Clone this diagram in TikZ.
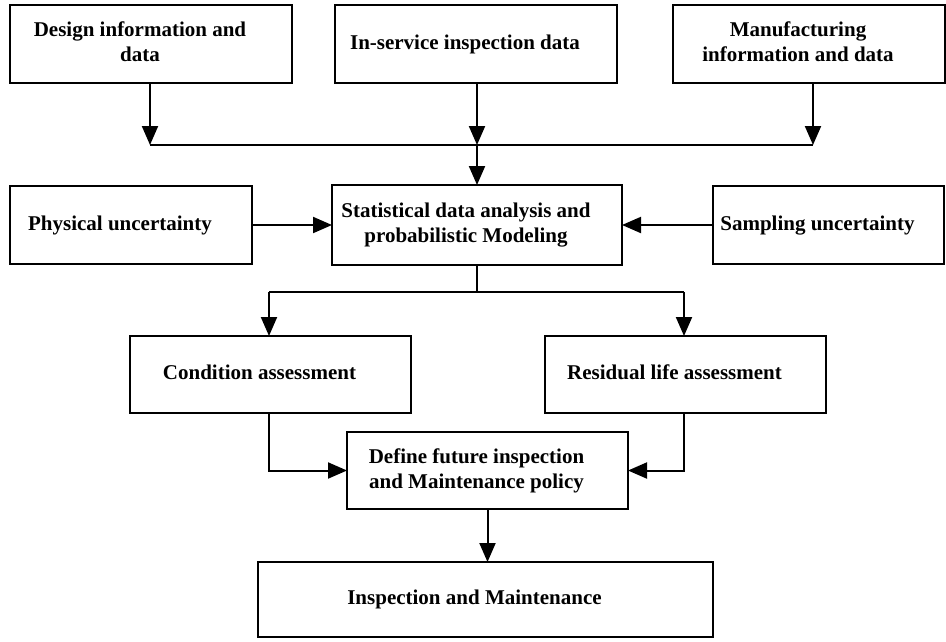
\documentclass[tikz,border=0pt]{standalone}
\usepackage{fontspec}
\setmainfont{Liberation Serif}
\usetikzlibrary{arrows.meta}
\newcommand{\boxtext}[1]{\begin{tabular}{@{}c@{\hspace{22pt}}}#1\end{tabular}}
\begin{document}
\begin{tikzpicture}[x=1pt,y=-1pt,
    >={Triangle[length=19pt,width=16pt]},
    line width=2pt,
    box/.style={draw, inner sep=0pt, outer sep=0pt,
      font=\fontsize{21}{25}\selectfont\bfseries}]
  \useasboundingbox (0,0) rectangle (946,641);

  % Top nodes
  \node[box, minimum width=282pt, minimum height=78pt] (design) at (151,44) {\boxtext{Design information and\\data}};
  \node[box, minimum width=282pt, minimum height=78pt] (inservice) at (476,44) {\boxtext{In-service inspection data}};
  \node[box, minimum width=272pt, minimum height=78pt] (manuf) at (809,44) {\boxtext{Manufacturing\\information and data}};

  % Middle nodes
  \node[box, minimum width=242pt, minimum height=78pt] (physical) at (131,225) {\boxtext{Physical uncertainty}};
  \node[box, minimum width=290pt, minimum height=80pt] (stat) at (477,225) {\boxtext{Statistical data analysis and\\probabilistic Modeling}};
  \node[box, minimum width=231pt, minimum height=78pt] (sampling) at (828.5,225) {\boxtext{Sampling uncertainty}};

  % Assessment nodes
  \node[box, minimum width=281pt, minimum height=77pt] (cond) at (270.5,374.5) {\boxtext{Condition assessment}};
  \node[box, minimum width=281pt, minimum height=77pt] (resid) at (685.5,374.5) {\boxtext{Residual life assessment}};

  % Lower nodes
  \node[box, minimum width=281pt, minimum height=77pt] (define) at (487.5,470.5) {\boxtext{Define future inspection\\and Maintenance policy}};
  \node[box, minimum width=455pt, minimum height=75pt] (inspect) at (485.5,599.5) {\boxtext{Inspection and Maintenance}};

  % Junctions
  \coordinate (busL) at (150,145);
  \coordinate (bus) at (477,145);
  \coordinate (busR) at (813,145);
  \coordinate (splitL) at (269,292);
  \coordinate (split) at (477,292);
  \coordinate (splitR) at (684,292);

  % Lines into the top bus
  \draw[->] (design.south -| busL) to (busL);
  \draw[->] (inservice.south -| bus) to (bus);
  \draw[->] (manuf.south -| busR) to (busR);
  \draw[-] (busL) to (busR);
  \draw[->] (bus) to (stat.north -| bus);

  % Lines from the uncertainties
  \draw[->] (physical) to (stat);
  \draw[->] (sampling) to (stat);

  % Lines to the assessments
  \draw[-] (stat.south -| split) to (split);
  \draw[-] (splitL) to (splitR);
  \draw[->] (splitL) to (cond.north -| splitL);
  \draw[->] (splitR) to (resid.north -| splitR);

  % Lines to the policy
  \draw[->] (cond.south -| splitL) |- (define.west);
  \draw[->] (resid.south -| splitR) |- (define.east);
  \draw[->] (define.south) to (define.south |- inspect.north);

\end{tikzpicture}
\end{document}
